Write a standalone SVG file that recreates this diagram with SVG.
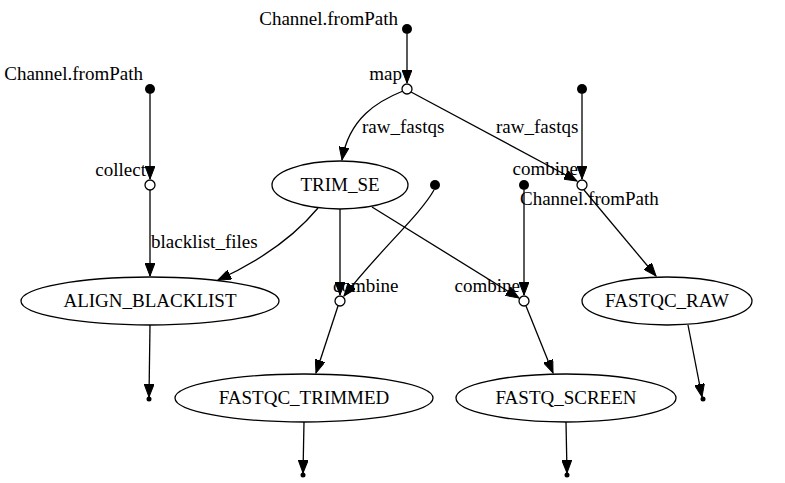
<svg xmlns="http://www.w3.org/2000/svg" width="785" height="483" viewBox="0 0 785 483">
<style>
text{font-family:"Liberation Serif","Times New Roman",serif;font-size:19px;fill:#000}
.n{text-anchor:middle}
.e{fill:none;stroke:#000;stroke-width:1.3;marker-end:url(#ah)}
.sh{fill:#fff;stroke:#000;stroke-width:1.3}
.src{fill:#000}
.op{fill:#fff;stroke:#000;stroke-width:1.3}
</style>
<defs>
<marker id="ah" markerUnits="userSpaceOnUse" markerWidth="14" markerHeight="10" refX="13" refY="5" orient="auto">
<path d="M0,0 L13,5 L0,10 z" fill="#000" stroke="#000" stroke-width="1"/>
</marker>
</defs>
<rect width="785" height="483" fill="#fff"/>
<g id="connectors">
<path class="e" d="M407,34 L407,83"/>
<path class="e" d="M403,91 C378,101 349,118 342,160"/>
<path class="e" d="M411,92 L577,181"/>
<path class="e" d="M582,94 L582,179"/>
<path class="e" d="M584,190 L656,276"/>
<path class="e" d="M150,94 L150,179"/>
<path class="e" d="M150,190 L150,276"/>
<path class="e" d="M318,208 C298,232 266,258 218,280"/>
<path class="e" d="M340,209 L340,295"/>
<path class="e" d="M434,190 C420,215 380,250 344,296"/>
<path class="e" d="M372,207 L519,298"/>
<path class="e" d="M524,190 L524,295"/>
<path class="e" d="M338,306 L316,373"/>
<path class="e" d="M526,306 L553,373"/>
<path class="e" d="M150,325 L149,397"/>
<path class="e" d="M688,325 L702,397"/>
<path class="e" d="M304,422 L303,473"/>
<path class="e" d="M566,422 L567,473"/>
</g>
<g id="src1"><circle class="src" cx="407" cy="29" r="5"/><text x="398" y="25" text-anchor="end">Channel.fromPath</text></g>
<g id="map"><circle class="op" cx="407" cy="89" r="5"/><text x="402" y="80" text-anchor="end">map</text></g>
<g id="src2"><circle class="src" cx="150" cy="89" r="5"/><text x="143" y="80" text-anchor="end">Channel.fromPath</text></g>
<g id="collect"><circle class="op" cx="150" cy="185" r="5"/><text x="146" y="176" text-anchor="end">collect</text></g>
<g id="src3"><circle class="src" cx="582" cy="89" r="5"/></g>
<g id="combine1"><circle class="op" cx="582" cy="185" r="5"/><text x="578" y="175" text-anchor="end">combine</text><text x="520" y="205">Channel.fromPath</text></g>
<g id="trim_se"><ellipse class="sh" cx="340" cy="185" rx="68" ry="24"/><text class="n" x="340" y="191">TRIM_SE</text></g>
<g id="src4"><circle class="src" cx="435" cy="185" r="5"/></g>
<g id="src5"><circle class="src" cx="524" cy="185" r="5"/></g>
<g id="align_blacklist"><ellipse class="sh" cx="150" cy="301" rx="129" ry="24"/><text class="n" x="150" y="307">ALIGN_BLACKLIST</text></g>
<g id="combine2"><circle class="op" cx="340" cy="301" r="5"/><text x="333" y="292">combine</text></g>
<g id="combine3"><circle class="op" cx="524" cy="301" r="5"/><text x="520" y="292" text-anchor="end">combine</text></g>
<g id="fastqc_raw"><ellipse class="sh" cx="667" cy="301" rx="85" ry="24"/><text class="n" x="667" y="307">FASTQC_RAW</text></g>
<g id="fastqc_trimmed"><ellipse class="sh" cx="304" cy="398" rx="129" ry="24"/><text class="n" x="304" y="404">FASTQC_TRIMMED</text></g>
<g id="fastq_screen"><ellipse class="sh" cx="566" cy="398" rx="110" ry="24"/><text class="n" x="566" y="404">FASTQ_SCREEN</text></g>
<g id="end1"><circle class="src" cx="149" cy="399" r="2.5"/></g>
<g id="end2"><circle class="src" cx="703" cy="399" r="2.5"/></g>
<g id="end3"><circle class="src" cx="303" cy="475" r="2.5"/></g>
<g id="end4"><circle class="src" cx="567" cy="475" r="2.5"/></g>
<g id="labels">
<text x="362" y="133">raw_fastqs</text>
<text x="496" y="133">raw_fastqs</text>
<text x="151" y="248">blacklist_files</text>
</g>
</svg>
